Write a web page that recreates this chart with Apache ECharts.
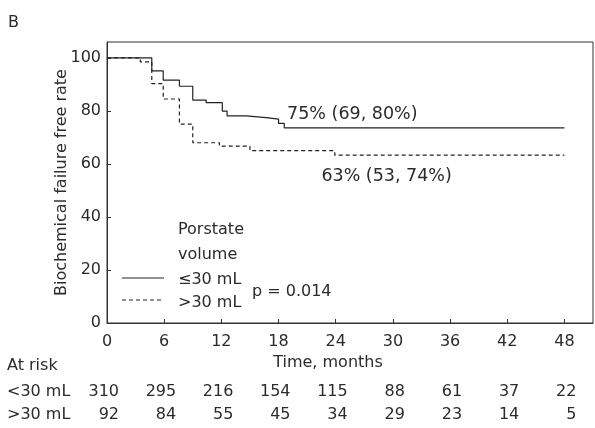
<!DOCTYPE html>
<html><head><meta charset="utf-8">
<script src="https://cdn.jsdelivr.net/npm/echarts@6/dist/echarts.min.js"></script>
<style>html,body{margin:0;padding:0;background:#fff}#c{width:595px;height:428px}</style>
</head><body><div id="c"></div>
<script>
// Kaplan-Meier steps: [month, survival %]
var smallVolume = [[0,100],[4.7,95.1],[5.9,91.6],[7.6,89.3],[9.0,84.1],[10.4,83.1],[12.1,79.9],[12.6,78.1],[14.6,77.5],[16.7,76.9],[18.0,75.3],[18.6,73.6],[48,73.6]];
var largeVolume = [[0,100],[3.5,98.5],[4.7,90.3],[5.9,84.5],[7.6,75.0],[9.0,68.0],[11.8,66.7],[15.0,65.0],[23.9,63.3],[48,63.3]];
var riskTimes = [0,6,12,18,24,30,36,42,48];
var riskSmall = [310,295,216,154,115,88,61,37,22];
var riskLarge = [92,84,55,45,34,29,23,14,5];
var riskLabels = ['<30 mL','>30 mL'];
var ann1 = {text:'75% (69, 80%)', t:18.9, v:78.8};
var ann2 = {text:'63% (53, 74%)', t:22.5, v:55.2};

var FONT = 'DejaVu Sans';
var TXT = '#2b2b2b';
var chart = echarts.init(document.getElementById('c'), null, {renderer:'canvas'});
var option = {
  animation:false,
  backgroundColor:'#fff',
  grid:{left:107,right:2,top:42,bottom:105,show:true,borderColor:'#333',borderWidth:1},
  xAxis:{type:'value',min:0,max:51,interval:6,
    name:'Time, months',nameLocation:'middle',nameGap:32,nameMoveOverlap:false,
    nameTextStyle:{fontFamily:FONT,fontSize:16,color:TXT,padding:[0,44,0,0]},
    axisLine:{lineStyle:{color:'#333',width:1}},
    axisTick:{inside:true,length:4,lineStyle:{color:'#333'}},
    axisLabel:{fontFamily:FONT,fontSize:16,color:TXT,margin:11,showMaxLabel:false},
    splitLine:{show:false}},
  yAxis:{type:'value',min:0,max:106,interval:20,
    name:'Biochemical failure free rate',nameLocation:'middle',nameGap:37,nameMoveOverlap:false,
    nameTextStyle:{fontFamily:FONT,fontSize:16,color:TXT},
    axisLine:{lineStyle:{color:'#333',width:1}},
    axisTick:{inside:true,length:4,lineStyle:{color:'#333'}},
    axisLabel:{fontFamily:FONT,fontSize:16,color:TXT,margin:6,showMaxLabel:false},
    splitLine:{show:false}},
  series:[
    {type:'line',step:'end',data:smallVolume,symbol:'none',lineStyle:{color:'#222',width:1.2}},
    {type:'line',step:'end',data:largeVolume,symbol:'none',lineStyle:{color:'#222',width:1.2,type:[4,3]}}
  ]
};
chart.setOption(option);

function px(t,v){return chart.convertToPixel({gridIndex:0},[t,v]);}
var g = [];
function txt(x,y,s,align,size){g.push({type:'text',x:x,y:y,style:{text:s,fontFamily:FONT,fontSize:size||16,fill:TXT,align:align||'left',verticalAlign:'middle'}});}
txt(8,23,'B');
var a1=px(ann1.t,ann1.v); txt(a1[0],a1[1],ann1.text,'left',17.5);
var a2=px(ann2.t,ann2.v); txt(a2[0],a2[1],ann2.text,'left',17.5);
// legend
txt(178,230,'Porstate');
txt(178,255,'volume');
txt(178,280,'\u226430 mL');
txt(178,303,'>30 mL');
g.push({type:'line',shape:{x1:122,y1:278,x2:164,y2:278},style:{stroke:'#222',lineWidth:1.2}});
g.push({type:'line',shape:{x1:122,y1:300,x2:164,y2:300},style:{stroke:'#222',lineWidth:1.2,lineDash:[4,3]}});
txt(252,292,'p = 0.014');
// risk table
txt(7,366,'At risk');
txt(7,392,riskLabels[0]);
txt(7,415,riskLabels[1]);
for(var i=0;i<riskTimes.length;i++){
  var x=px(riskTimes[i],0)[0]+12;
  txt(x,392,String(riskSmall[i]),'right');
  txt(x,415,String(riskLarge[i]),'right');
}
chart.setOption({graphic:g});
</script></body></html>
